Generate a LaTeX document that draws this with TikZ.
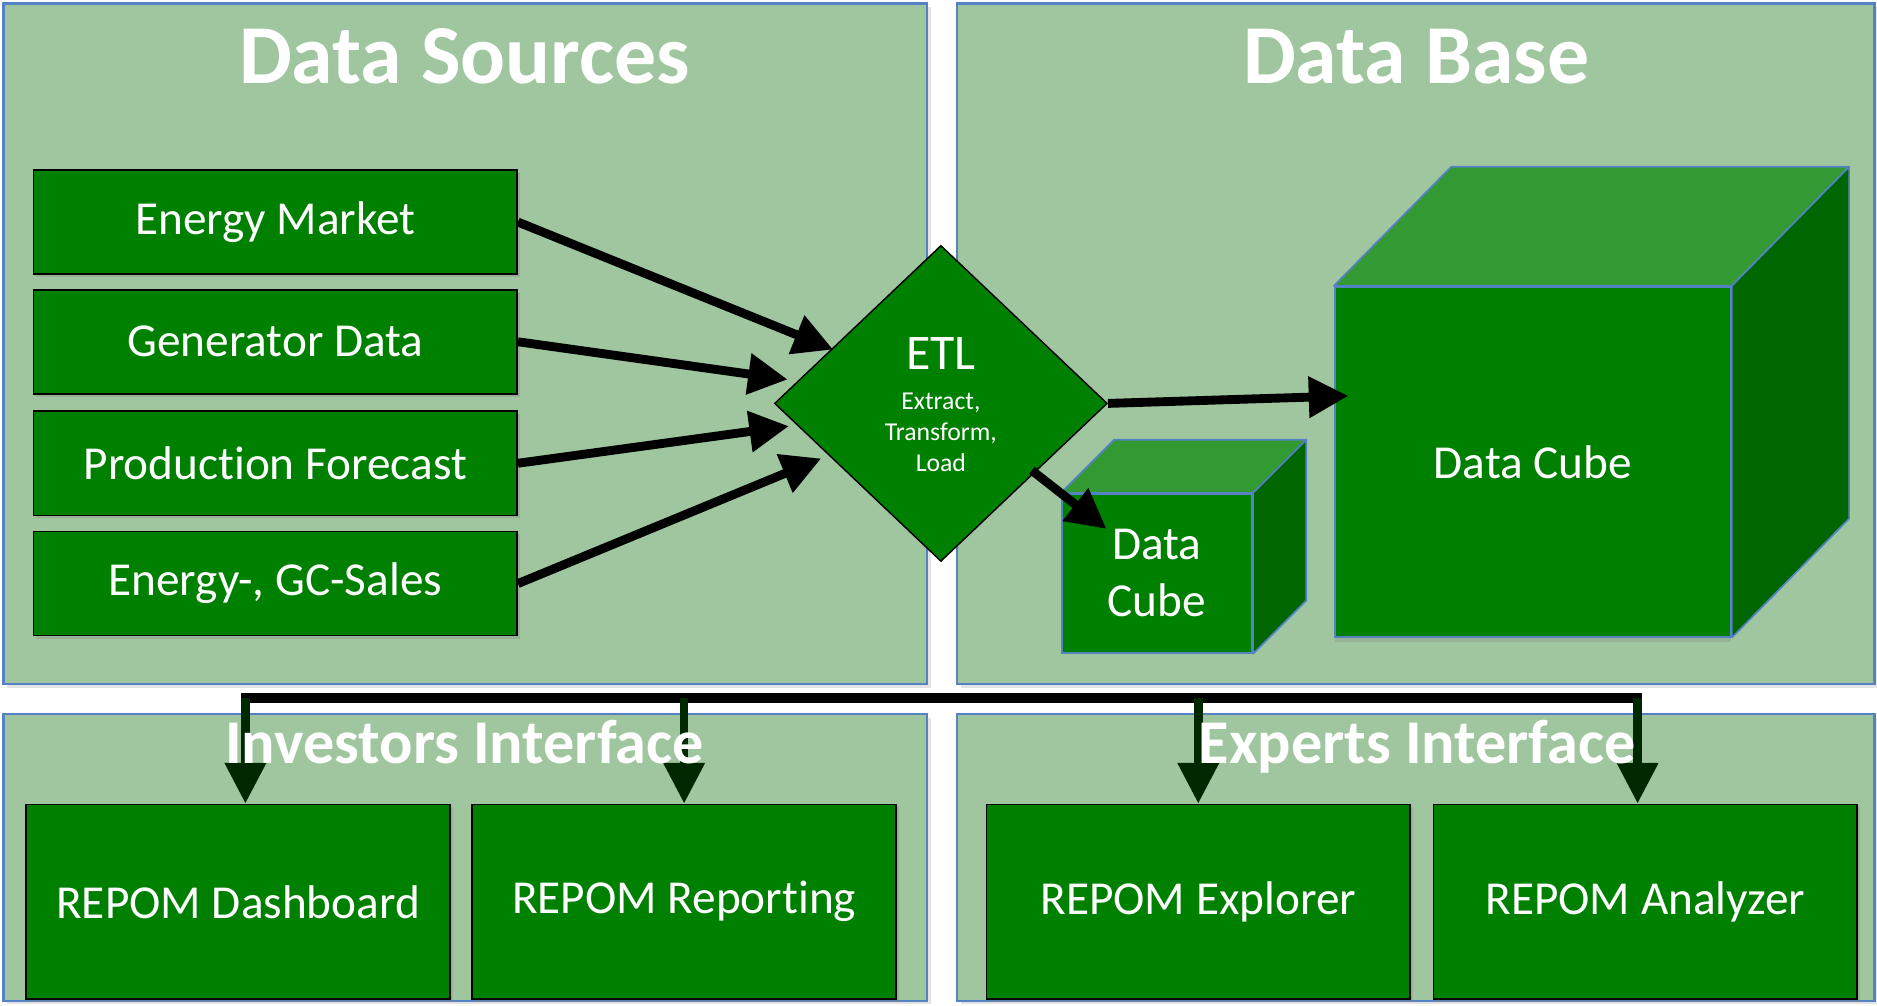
\documentclass[tikz,border=0pt]{standalone}
\usepackage{fontspec}
\setmainfont{Carlito}[Ligatures=NoCommon]
\usetikzlibrary{shapes.geometric,arrows.meta,calc,shadows}

\definecolor{panelfill}{RGB}{160,198,160}
\definecolor{panelline}{RGB}{84,130,196}
\definecolor{boxgreen}{RGB}{0,128,0}
\definecolor{topgreen}{RGB}{51,153,51}
\definecolor{sidegreen}{RGB}{0,102,0}
\definecolor{headgreen}{RGB}{0,40,0}

\begin{document}
\begin{tikzpicture}[x=0.5pt,y=-0.5pt,
  panel/.style={draw=panelline, line width=0.9pt, fill=panelfill, anchor=north west, inner sep=0pt,
    drop shadow={shadow xshift=1.5pt,shadow yshift=-1.5pt,opacity=0.22}},
  title/.style={text=white, font=\fontsize{35pt}{42pt}\selectfont\bfseries, anchor=base, inner sep=0pt},
  subtitle/.style={text=white, font=\fontsize{26pt}{31pt}\selectfont\bfseries, anchor=base, inner sep=0pt},
  srcbox/.style={draw=black, line width=0.7pt, fill=boxgreen, text=white, inner sep=0pt,
    font=\fontsize{19.75pt}{24pt}\selectfont, minimum width=202pt, minimum height=43.5pt,
    drop shadow={shadow xshift=1.2pt,shadow yshift=-1.2pt,opacity=0.3}},
  appbox/.style={srcbox, minimum width=177pt, minimum height=81.3pt},
  etlshape/.style={diamond, draw=black, line width=0.6pt, fill=boxgreen, minimum width=139pt, minimum height=132pt, inner sep=0pt},
  etltext/.style={text=white, inner sep=0pt},
  cubefront/.style={draw=panelline, line width=0.7pt, fill=boxgreen, text=white, inner sep=0pt, align=center,
    font=\fontsize{19.75pt}{23.8pt}\selectfont},
  cubetop/.style={draw=panelline, line width=0.7pt, fill=topgreen, line join=round},
  cubeside/.style={draw=panelline, line width=0.7pt, fill=sidegreen, line join=round},
  flow/.style={line width=3.7pt, draw=black, -{Triangle[length=16.5pt,width=16.5pt]}},
  busline/.style={line width=4pt, draw=black, line cap=rect},
  busarrow/.style={line width=3.6pt, draw=headgreen, -{Triangle[length=17pt,width=16.5pt,color=headgreen,fill=headgreen]}}
]
\fill[white] (0,0) rectangle (1568,840);
\useasboundingbox (0,0) rectangle (1568,840);

% panels
\node[panel, minimum width=385.75pt, minimum height=284.25pt] (ds) at (2,2) {};
\node[panel, minimum width=383.25pt, minimum height=284.25pt] (db) at (798.5,2) {};
\node[panel, minimum width=385.75pt, minimum height=119.75pt] (ii) at (2,595.5) {};
\node[panel, minimum width=383.25pt, minimum height=119.75pt] (ei) at (798.5,595.5) {};

% titles of upper panels
\node[title] (dsT) at (388,70) {Data Sources};
\node[title] (dbT) at (1183,70) {Data Base};

% data sources
\node[srcbox] (em) at (230,185.5) {Energy Market};
\node[srcbox] (gd) at (230,285.5) {Generator Data};
\node[srcbox] (pf) at (230,387) {Production Forecast};
\node[srcbox] (gc) at (230,487.5) {Energy-, GC-Sales};

% ETL
\node[etlshape] (etl) at (786,337) {};
\node[etltext, font=\fontsize{20.8pt}{25pt}\selectfont, anchor=base] (etlT) at (786,309) {ETL};
\node[etltext, align=center, font=\fontsize{10.75pt}{13pt}\selectfont] (etlS) at (786,361) {Extract,\\Transform,\\Load};

% small cube
\node[cubefront, minimum width=79.5pt, minimum height=66.5pt] (sfront) at (966.5,479) {Data\\Cube};
\path[cubetop] (sfront.north west) -- ++(44.5,-44.5) -- ([shift={(44.5,-44.5)}]sfront.north east) -- (sfront.north east) -- cycle;
\path[cubeside] (sfront.north east) -- ++(44.5,-44.5) -- ([shift={(44.5,-44.5)}]sfront.south east) -- (sfront.south east) -- cycle;

% big cube
\node[cubefront, minimum width=165.5pt, minimum height=146.25pt,
  drop shadow={shadow xshift=0pt,shadow yshift=-2pt,opacity=0.25}] (bfront) at (1280.5,385.75) {Data Cube};
\path[cubetop] (bfront.north west) -- ++(98,-99.5) -- ([shift={(98,-99.5)}]bfront.north east) -- (bfront.north east) -- cycle;
\path[cubeside] (bfront.north east) -- ++(98,-99.5) -- ([shift={(98,-99.5)}]bfront.south east) -- (bfront.south east) -- cycle;

% apps
\node[appbox] (dash) at (199,753.3) {REPOM Dashboard};
\node[appbox] (rep) at (571.5,753.3) {REPOM Reporting};
\node[appbox] (exp) at (1001,753.3) {REPOM Explorer};
\node[appbox] (ana) at (1374.5,753.3) {REPOM Analyzer};

% arrows into ETL
\draw[flow] (em.east) -- ([shift={(-90,-45)}]etl.center);
\draw[flow] (gd.east) -- ([shift={(-128,-20)}]etl.center);
\draw[flow] (pf.east) -- ([shift={(-127,19)}]etl.center);
\draw[flow] (gc.east) -- ([shift={(-100,46)}]etl.center);

% ETL to cubes
\draw[flow] (etl.east) -- ([shift={(12,-55)}]bfront.west);
\draw[flow] ([shift={(76,56)}]etl.center) -- ([shift={(38,30)}]sfront.north west);

% bus
\coordinate (busy) at (0,583);
\coordinate (dA) at ([xshift=3pt]dash.north);
\coordinate (dB) at (rep.north);
\coordinate (dC) at (exp.north);
\coordinate (dD) at ([xshift=-3.25pt]ana.north);
\draw[busline] (dA |- busy) -- (dD |- busy);
\draw[busarrow] (dA |- busy) -- (dA);
\draw[busarrow] (dB |- busy) -- (dB);
\draw[busarrow] (dC |- busy) -- (dC);
\draw[busarrow] (dD |- busy) -- (dD);

% titles of lower panels (over the bus lines)
\node[subtitle] (iiT) at (388,637.5) {Investors Interface};
\node[subtitle] (eiT) at (1184,637.5) {Experts Interface};
\end{tikzpicture}
\end{document}
